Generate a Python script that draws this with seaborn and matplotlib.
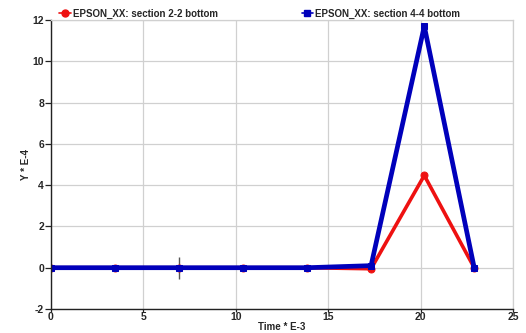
import matplotlib
matplotlib.use("Agg")
import matplotlib.pyplot as plt
import seaborn as sns
import pandas as pd
from matplotlib.lines import Line2D

time = [0.0, 3.46, 6.93, 10.39, 13.86, 17.32, 20.2, 22.9]
sec22 = [0.0, 0.0, 0.0, 0.0, 0.0, -0.05, 4.47, 0.0]
sec44 = [0.0, 0.0, 0.0, 0.0, 0.0, 0.1, 11.7, 0.0]
labels = ["EPSON_XX: section 2-2 bottom", "EPSON_XX: section 4-4 bottom"]
cursor_x = [6.93]
cursor_y = [0.0]

sns.set_theme(style="whitegrid")
plt.rcParams['font.family'] = ['Liberation Sans', 'DejaVu Sans']
plt.rcParams['axes.unicode_minus'] = False

df = pd.DataFrame({"Time": time + time,
                   "Y": sec22 + sec44,
                   "series": [labels[0]] * len(time) + [labels[1]] * len(time)})

fig = plt.figure(figsize=(5.26, 3.33), dpi=100)
ax = fig.add_axes([51 / 526, 1 - 309 / 333, (513 - 51) / 526, (309 - 20) / 333])

red = "#ee1111"
blue = "#0000bb"
sns.lineplot(data=df[df.series == labels[0]], x="Time", y="Y", ax=ax, color=red,
             linewidth=2.6, marker="o", markersize=5, markeredgecolor=red, legend=False)
sns.lineplot(data=df[df.series == labels[1]], x="Time", y="Y", ax=ax, color=blue,
             linewidth=3.4, marker="s", markersize=5, markeredgecolor=blue, legend=False)
ax.plot(cursor_x, cursor_y, marker="|", markersize=16, color="#555555", mew=1, zorder=1)

ax.set_xlim(0, 25)
ax.set_ylim(-2, 12)
ax.set_xticks([0, 5, 10, 15, 20, 25])
ax.set_yticks([-2, 0, 2, 4, 6, 8, 10, 12])
ax.grid(True, color="#d0d0d0", linewidth=0.9)
for s in ["top", "right"]:
    ax.spines[s].set_color("#d0d0d0")
    ax.spines[s].set_linewidth(0.9)
for s in ["left", "bottom"]:
    ax.spines[s].set_color("#222222")
    ax.spines[s].set_linewidth(1.0)
ax.tick_params(axis="y", length=4, width=0.9, color="#222222",
               labelsize=7.5, pad=1, direction="out", left=True)
ax.tick_params(axis="x", length=2, width=0.9, color="#222222",
               labelsize=7.5, pad=0.5, direction="out", bottom=True)
for lab in ax.get_xticklabels() + ax.get_yticklabels():
    lab.set_fontweight("bold")

ax.set_xlabel("Time * E-3", fontsize=7, fontweight="bold", labelpad=0)
ax.set_ylabel("Y * E-4", fontsize=7, fontweight="bold", labelpad=1)

handles = [Line2D([0], [0], color=red, lw=1.2, marker="o", markersize=5),
           Line2D([0], [0], color=blue, lw=1.2, marker="s", markersize=5)]
ax.legend(handles, labels, loc="lower left", bbox_to_anchor=(0.018, 1.005), ncol=2,
          frameon=False, prop={"weight": "bold", "size": 7},
          handlelength=1.2, handletextpad=0.2, columnspacing=8.6, borderaxespad=0,
          borderpad=0)

fig.savefig("out.png", dpi=100)
